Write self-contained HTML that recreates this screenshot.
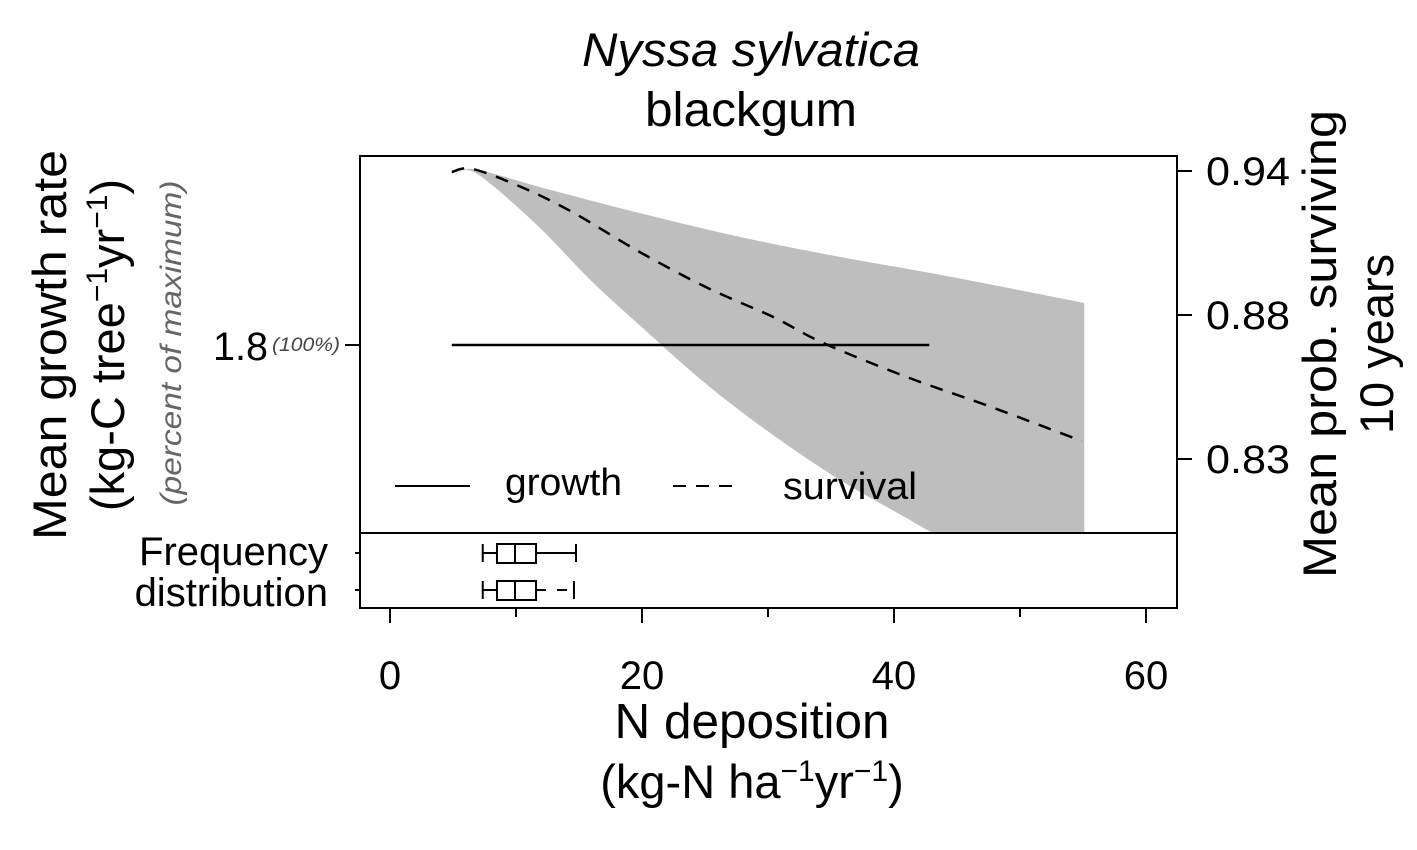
<!DOCTYPE html>
<html><head><meta charset="utf-8"><style>
body{margin:0;background:#fff}
svg{display:block;font-family:"Liberation Sans",sans-serif}
</style></head><body>
<svg id="chart" width="1417" height="850" viewBox="0 0 1417 850">
<defs><clipPath id="clip"><rect x="360" y="156" width="817" height="377"/></clipPath></defs>
<text x="751" y="66" font-size="47" font-style="italic" text-anchor="middle" textLength="338" lengthAdjust="spacingAndGlyphs">Nyssa sylvatica</text>
<text x="751" y="126" font-size="48" text-anchor="middle" textLength="212" lengthAdjust="spacingAndGlyphs">blackgum</text>
<g id="marks" clip-path="url(#clip)"></g>
<rect x="360" y="156" width="817" height="377" fill="none" stroke="#000" stroke-width="2"/>
<rect x="360" y="533" width="817" height="75" fill="none" stroke="#000" stroke-width="2"/>
<g id="boxes"></g>
<g id="xaxis"></g>
<g id="raxis"></g>
<line x1="345" y1="345" x2="360" y2="345" stroke="#000" stroke-width="2"/>
<text x="268" y="360" font-size="40" text-anchor="end" textLength="55" lengthAdjust="spacingAndGlyphs">1.8</text>
<text x="272" y="351" font-size="19" font-style="italic" fill="#444" textLength="68" lengthAdjust="spacingAndGlyphs">(100%)</text>
<line x1="355" y1="553" x2="360" y2="553" stroke="#000" stroke-width="2"/>
<line x1="355" y1="590" x2="360" y2="590" stroke="#000" stroke-width="2"/>
<text x="328" y="565" font-size="40" text-anchor="end">Frequency</text>
<text x="328" y="606" font-size="40" text-anchor="end">distribution</text>
<g>
<line x1="395" y1="486" x2="470" y2="486" stroke="#000" stroke-width="2"/>
<text x="505" y="495" font-size="38" textLength="117" lengthAdjust="spacingAndGlyphs">growth</text>
<line x1="673" y1="486" x2="740" y2="486" stroke="#000" stroke-width="2" stroke-dasharray="13,10"/>
<text x="783" y="499" font-size="38" textLength="134" lengthAdjust="spacingAndGlyphs">survival</text>
</g>
<text transform="translate(66,345) rotate(-90)" font-size="47" text-anchor="middle" textLength="390" lengthAdjust="spacingAndGlyphs">Mean growth rate</text>
<text transform="translate(124,345) rotate(-90)" font-size="47" text-anchor="middle">(kg-C tree<tspan dy="-17" font-size="30">−1</tspan><tspan dy="17">yr</tspan><tspan dy="-17" font-size="30">−1</tspan><tspan dy="17">)</tspan></text>
<text transform="translate(181,343) rotate(-90)" font-size="30" font-style="italic" fill="#666" text-anchor="middle" textLength="325" lengthAdjust="spacingAndGlyphs">(percent of maximum)</text>
<text transform="translate(1336,344) rotate(-90)" font-size="47" text-anchor="middle" textLength="468" lengthAdjust="spacingAndGlyphs">Mean prob. surviving</text>
<text transform="translate(1393,344) rotate(-90)" font-size="47" text-anchor="middle">10 years</text>
<text x="752" y="738" font-size="49" text-anchor="middle" textLength="275" lengthAdjust="spacingAndGlyphs">N deposition</text>
<text x="752" y="798" font-size="47" text-anchor="middle">(kg-N ha<tspan dy="-17" font-size="30">−1</tspan><tspan dy="17">yr</tspan><tspan dy="-17" font-size="30">−1</tspan><tspan dy="17">)</tspan></text>
</svg>
<script>
const survN=[4.9,6.6,10.6,14.6,19.8,25.2,30.4,34.4,41.0,47.5,54.9];
const survVal=[0.9396,0.9408,0.9329,0.9225,0.9063,0.8913,0.8792,0.8683,0.8542,0.8421,0.8275];
const upperN=[4.9,6.6,11.9,19.8,27.8,35.7,43.7,55.1];
const upperVal=[0.9371,0.9408,0.9333,0.9225,0.9125,0.9042,0.8967,0.885];
const lowerN=[4.9,6.1,7.9,11.9,15.9,19.8,25.2,30.4,35.7,41.0,42.8,55.1];
const lowerVal=[0.9371,0.9404,0.9350,0.9163,0.8946,0.8758,0.8508,0.83,0.8113,0.7954,0.79,0.7546];
const growthN=[4.9,42.8];
const growthVal=[1.8,1.8];
const boxStats=[[7.36,8.49,9.92,11.59,14.76],[7.36,8.49,9.92,11.59,14.6]];
const xTicks=[0,10,20,30,40,50,60];
const xLabels=["0","","20","","40","","60"];
const rTicks=[0.94,0.88,0.82];
const rLabels=["0.94","0.88","0.83"];

const NS="http://www.w3.org/2000/svg";
const X=n=>390+n*12.6;
const YR=v=>171+(0.94-v)*2400;
const YG=g=>345+(1.8-g)*100;
function mk(t,a,p){const e=document.createElementNS(NS,t);for(const k in a)e.setAttribute(k,a[k]);p.appendChild(e);return e;}
function smooth(pts,start){
  let d=(start?'M':'L')+pts[0][0]+','+pts[0][1];
  for(let i=0;i<pts.length-1;i++){
    const p0=pts[Math.max(0,i-1)],p1=pts[i],p2=pts[i+1],p3=pts[Math.min(pts.length-1,i+2)];
    const c1=[p1[0]+(p2[0]-p0[0])/6,p1[1]+(p2[1]-p0[1])/6];
    const c2=[p2[0]-(p3[0]-p1[0])/6,p2[1]-(p3[1]-p1[1])/6];
    d+='C'+c1+' '+c2+' '+p2;
  }
  return d;
}
const marks=document.getElementById('marks');
const up=upperN.map((n,i)=>[X(n),YR(upperVal[i])]);
const lo=lowerN.map((n,i)=>[X(n),YR(lowerVal[i])]).reverse();
const band=mk('path',{d:smooth(up,true)+smooth(lo,false)+'Z',fill:'#bebebe'},marks);


const gl=mk('path',{d:growthN.map((n,i)=>(i?'L':'M')+X(n)+','+YG(growthVal[i])).join(''),stroke:'#000','stroke-width':2.5,fill:'none'},marks);


const sl=mk('path',{d:smooth(survN.map((n,i)=>[X(n),YR(survVal[i])]),true),stroke:'#000','stroke-width':2.5,fill:'none','stroke-dasharray':'13,10'},marks);



const boxes=document.getElementById('boxes');
const rows=[553,590];
boxStats.forEach((s,i)=>{
  const g=mk('g',{},boxes);
  
  
  const y=rows[i],st={stroke:'#000','stroke-width':2,fill:'none'};
  mk('line',Object.assign({x1:X(s[0]),x2:X(s[1]),y1:y,y2:y},st),g);
  const w=mk('line',Object.assign({x1:X(s[3]),x2:X(s[4]),y1:y,y2:y},st),g);
  if(i===1)w.setAttribute('stroke-dasharray','10,11');
  mk('line',Object.assign({x1:X(s[0]),x2:X(s[0]),y1:y-9,y2:y+9},st),g);
  mk('line',Object.assign({x1:X(s[4]),x2:X(s[4]),y1:y-9,y2:y+9},st),g);
  mk('rect',Object.assign({x:X(s[1]),y:y-9,width:X(s[3])-X(s[1]),height:19},st),g);
  mk('line',Object.assign({x1:X(s[2]),x2:X(s[2]),y1:y-9,y2:y+10},st),g);
});
const xa=document.getElementById('xaxis');
xTicks.forEach((t,i)=>{
  const tk=mk('line',{x1:X(t),x2:X(t),y1:608,y2:xLabels[i]?623:617,stroke:'#000','stroke-width':2},xa);
  
  
  if(xLabels[i]){const tx=mk('text',{x:X(t),y:689,'font-size':40,'text-anchor':'middle'},xa);tx.textContent=xLabels[i];
  
  }
});
const ra=document.getElementById('raxis');
rTicks.forEach((t,i)=>{
  const tk=mk('line',{x1:1177,x2:1192,y1:YR(t),y2:YR(t),stroke:'#000','stroke-width':2},ra);
  
  
  const tx=mk('text',{x:1206,y:YR(t)+14,'font-size':40,textLength:84,lengthAdjust:'spacingAndGlyphs'},ra);tx.textContent=rLabels[i];
  
  
});
</script>
</body></html>
